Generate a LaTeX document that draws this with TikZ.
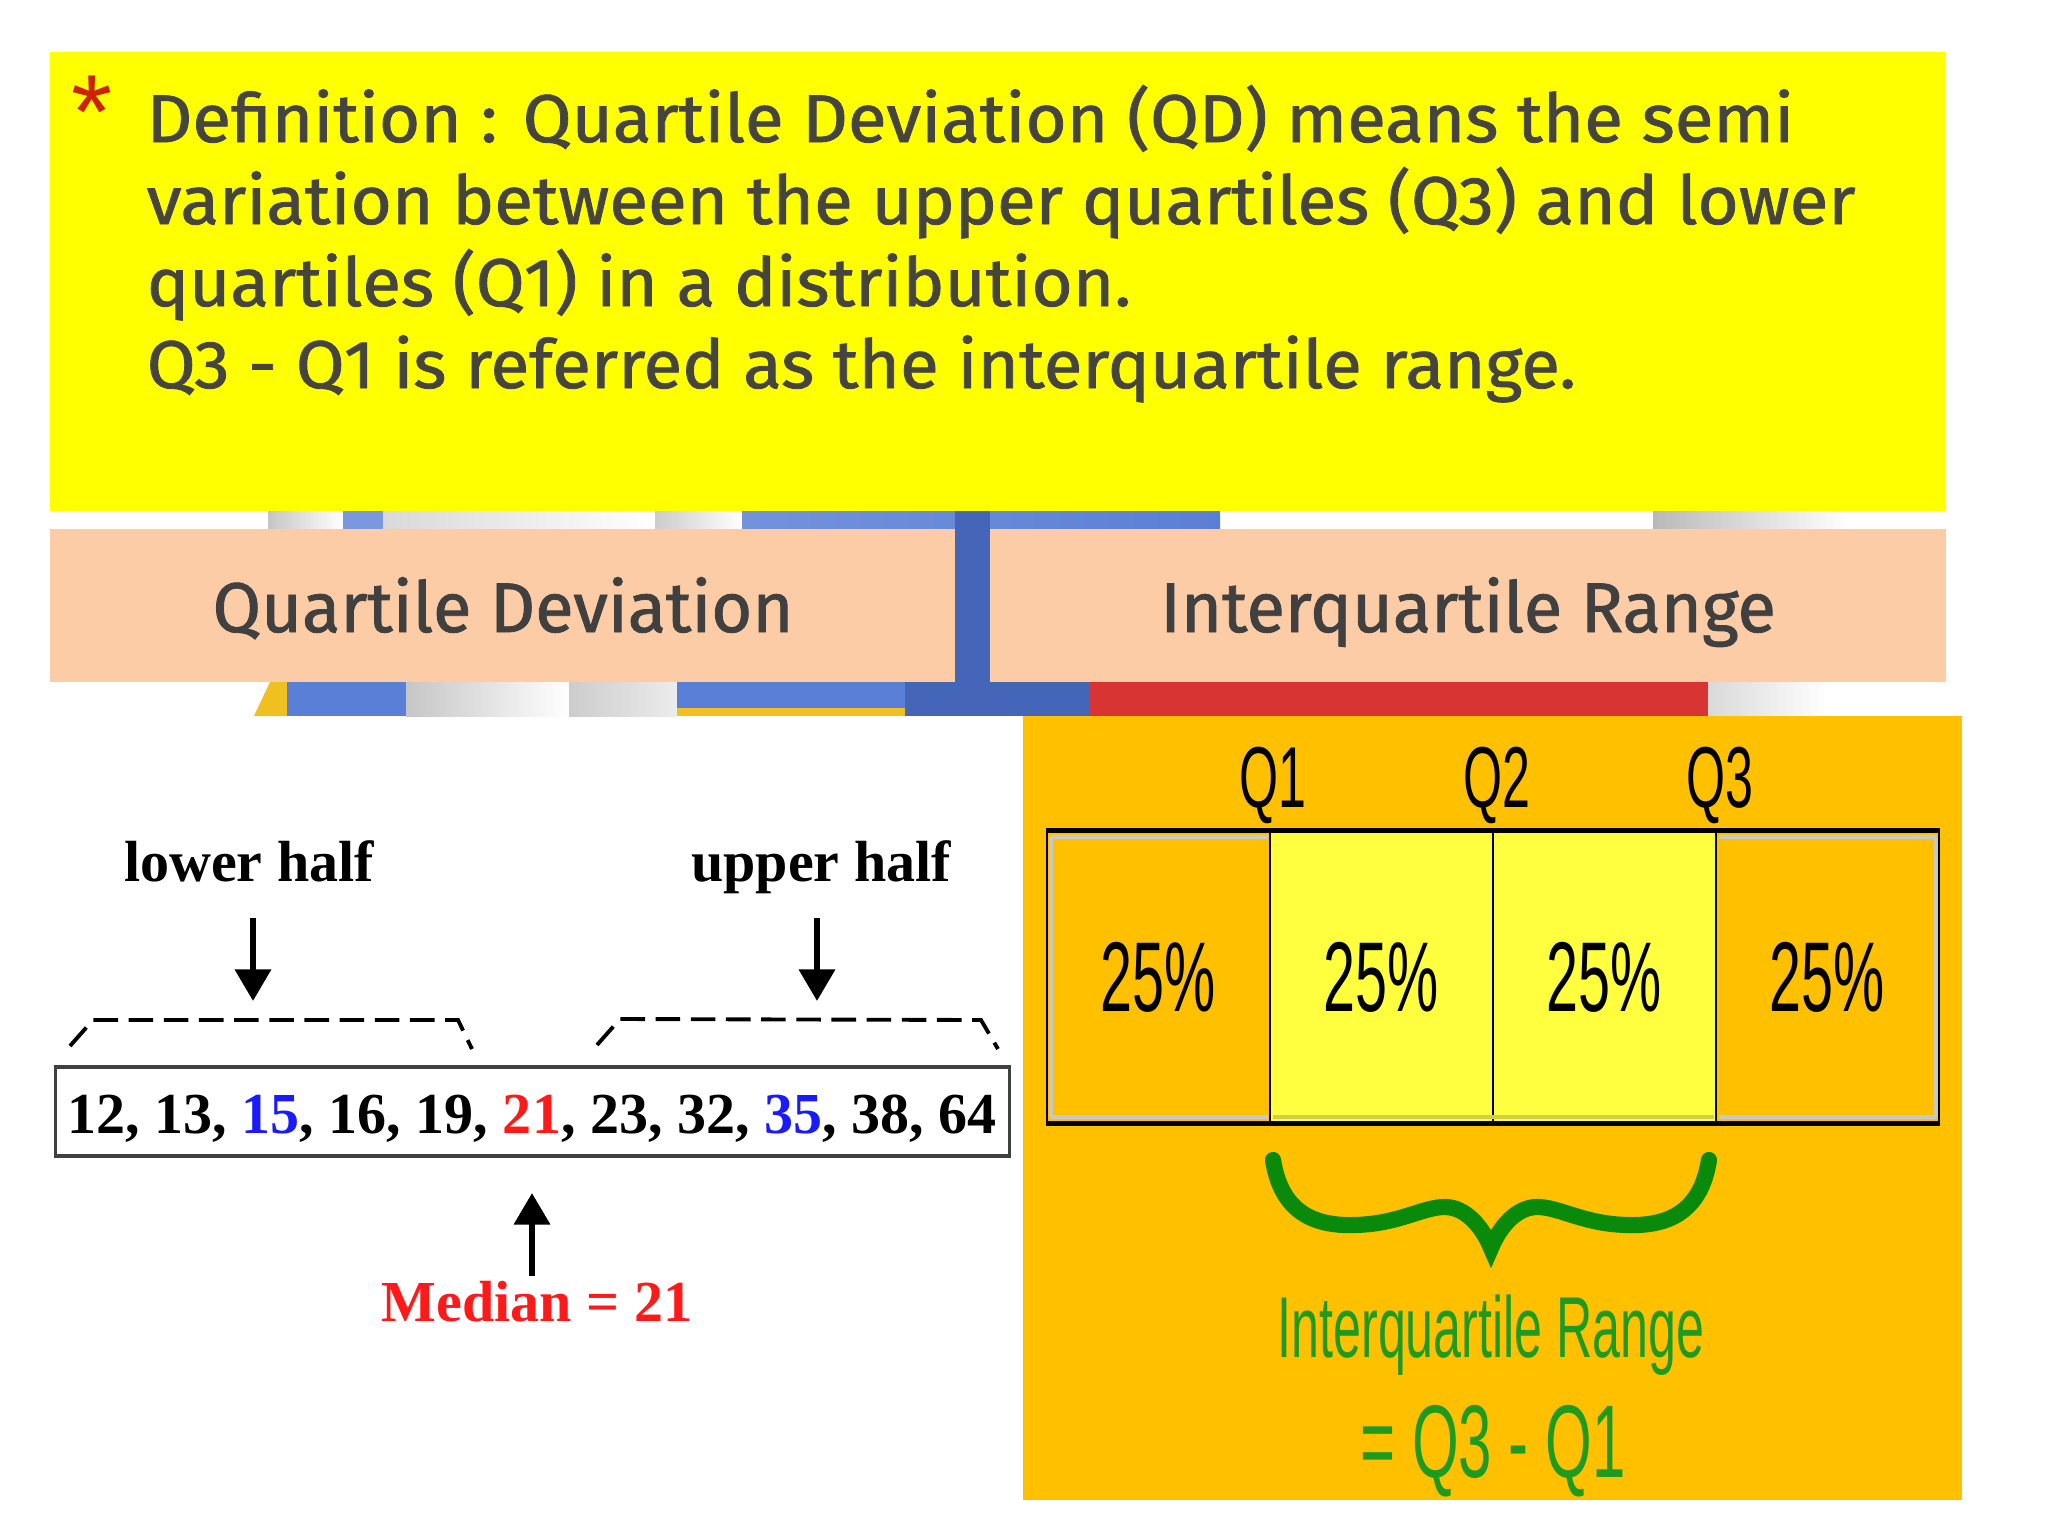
\documentclass[tikz,border=0pt]{standalone}
\usepackage{fontspec}
\usetikzlibrary{arrows.meta}
\setmainfont{Liberation Serif}
\newfontfamily\firadef[FakeStretch=1.05,FakeBold=1.2]{Fira Sans}
\newfontfamily\firahead[FakeBold=1.2]{Fira Sans}
\newfontfamily\astfont{Liberation Sans}
\newfontfamily\narrowfont[FakeStretch=0.58]{Liberation Sans}

\definecolor{slideyellow}{HTML}{FFFF00}
\definecolor{peach}{HTML}{FCCCA6}
\definecolor{panelorange}{HTML}{FFC000}
\definecolor{cellyellow}{HTML}{FFFF40}
\definecolor{deftext}{HTML}{45453E}
\definecolor{headtext}{HTML}{404040}
\definecolor{astred}{HTML}{CC2200}
\definecolor{photoblue}{HTML}{5A7FD6}
\definecolor{gapblue}{HTML}{4566B8}
\definecolor{photored}{HTML}{D83434}
\definecolor{photoyellow}{HTML}{F0C020}
\definecolor{numblue}{HTML}{1A1AFF}
\definecolor{numred}{HTML}{FF1A1A}
\definecolor{bracegreen}{HTML}{0A8A0A}
\definecolor{textgreen}{HTML}{1E9A1E}
\definecolor{cellgray}{HTML}{C8C8C8}
\definecolor{celldark}{HTML}{D0D040}

\begin{document}
\begin{tikzpicture}[x=0.01cm,y=-0.01cm,
  deftextstyle/.style={anchor=base west, inner sep=0pt, text=deftext, font=\firadef\fontsize{19.2}{23}\selectfont},
  headlabel/.style={anchor=base, inner sep=0pt, text=headtext, font=\firahead\fontsize{20}{24}\selectfont},
  halflabel/.style={anchor=base, inner sep=0pt, font=\bfseries\fontsize{16.5}{20}\selectfont},
  bigarrow/.style={line width=1.8pt, -{Triangle[width=10pt,length=9pt]}},
  halfbrace/.style={line width=1.1pt, dash pattern=on 7pt off 3pt},
  qlabel/.style={anchor=base, inner sep=0pt, font=\narrowfont\fontsize{24.6}{28}\selectfont},
  cellstyle/.style={draw=black, line width=0.8pt, minimum width=2.23cm, minimum height=2.9cm, inner sep=0pt, font=\narrowfont\fontsize{28.2}{32}\selectfont},
  greenrange/.style={anchor=base, inner sep=0pt, text=textgreen, font=\narrowfont\fontsize{24.6}{28}\selectfont},
  greenformula/.style={anchor=base, inner sep=0pt, text=textgreen, font=\narrowfont\fontsize{29.4}{32}\selectfont}
]
\fill[white] (0,0) rectangle (2048,1536);
\useasboundingbox (0,0) rectangle (2048,1536);

% --- background photo fragments (top strip) ---
\shade[left color=gray!45, right color=white] (268,511) rectangle (343,529);
\fill[photoblue!80] (343,511) rectangle (383,529);
\shade[left color=gray!30, right color=white] (383,511) rectangle (655,529);
\shade[left color=gray!40, right color=white] (655,511) rectangle (742,529);
\shade[left color=photoblue!85, right color=photoblue] (742,511) rectangle (1220,529);
\shade[left color=gray!55, right color=white] (1653,511) rectangle (1849,529);
% --- bottom strip ---
\fill[photoyellow] (254,716) -- (270,682) -- (287,682) -- (287,716) -- cycle;
\fill[photoblue] (287,682) rectangle (406,716);
\shade[left color=gray!45, right color=white] (406,682) rectangle (569,716);
\shade[left color=gray!40, right color=gray!15] (569,682) rectangle (677,716);
\fill[photoblue] (677,682) rectangle (905,708);
\fill[photoyellow] (677,708) rectangle (905,716);
\fill[gapblue] (905,682) rectangle (1089,716);
\fill[photored] (1089,682) rectangle (1708,716);
\shade[left color=gray!30, right color=white] (1708,682) rectangle (1827,716);
\fill[gapblue] (955,511) rectangle (990,716);

% --- definition box ---
\fill[slideyellow] (50,52) rectangle (1946,511);
\node[anchor=base, inner sep=0pt, text=astred, font=\astfont\fontsize{30}{30}\selectfont] (bullet) at (92,148) {*};
\node[deftextstyle] (defA) at (146,142) {Definition : Quartile Deviation (QD) means the semi};
\node[deftextstyle] (defB) at (146,224) {variation between the upper quartiles (Q3) and lower};
\node[deftextstyle] (defC) at (146,306) {quartiles (Q1) in a distribution.};
\node[deftextstyle] (defD) at (146,388) {Q3 - Q1 is referred as the interquartile range.};

% --- headers ---
\fill[peach] (50,529) rectangle (955,682);
\fill[peach] (990,529) rectangle (1946,682);
\node[headlabel] (qdlabel) at (503,632) {Quartile Deviation};
\node[headlabel] (iqrlabel) at (1468,632) {Interquartile Range};

% --- left panel ---
\node[halflabel] (lowlabel) at (249,881) {lower half};
\node[halflabel] (uplabel) at (821,881) {upper half};
\coordinate (lowstart) at (253,918);
\coordinate (lowend) at (253,1001);
\coordinate (upstart) at (817,918);
\coordinate (upend) at (817,1001);
\draw[bigarrow] (lowstart) -- (lowend);
\draw[bigarrow] (upstart) -- (upend);
\coordinate (lbA) at (70,1046);
\coordinate (lbB) at (93,1020);
\coordinate (lbC) at (458,1020);
\coordinate (lbD) at (472,1049);
\coordinate (ubA) at (597,1045);
\coordinate (ubB) at (620,1019);
\coordinate (ubC) at (981,1020);
\coordinate (ubD) at (998,1049);
\draw[halfbrace] (lbA) -- (lbB) -- (lbC) -- (lbD);
\draw[halfbrace] (ubA) -- (ubB) -- (ubC) -- (ubD);
\node[draw=black!75, line width=1pt, minimum width=9.53cm, minimum height=0.89cm, inner sep=0pt] (numbox) at (532.5,1111.5) {};
\node[halflabel] (numtext) at (532,1133)
  {12, 13, \textcolor{numblue}{15}, 16, 19, \textcolor{numred}{21}, 23, 32, \textcolor{numblue}{35}, 38, 64};
\coordinate (medstart) at (532,1276);
\coordinate (medend) at (532,1193);
\draw[bigarrow] (medstart) -- (medend);
\node[halflabel, text=numred] (medlabel) at (537,1321) {Median = 21};

% --- right panel ---
\fill[panelorange] (1023,716) rectangle (1962,1500);
\node[qlabel] (qone) at (1273,807) {Q1};
\node[qlabel] (qtwo) at (1497,807) {Q2};
\node[qlabel] (qthree) at (1720,807) {Q3};
\node[cellstyle, fill=panelorange] (cellA) at (1158.5,977) {25\%};
\node[cellstyle, fill=cellyellow] (cellB) at (1381.5,977) {25\%};
\node[cellstyle, fill=cellyellow] (cellC) at (1604.5,977) {25\%};
\node[cellstyle, fill=panelorange] (cellD) at (1827.5,977) {25\%};
\draw[cellgray, line width=1pt] (1051,837) -- (1268,837);
\draw[cellgray, line width=1pt] (1051,1117) -- (1268,1117);
\draw[cellgray, line width=1pt] (1051,837) -- (1051,1117);
\draw[cellgray, line width=1pt] (1719,837) -- (1936,837);
\draw[cellgray, line width=1pt] (1719,1117) -- (1936,1117);
\draw[cellgray, line width=1pt] (1936,837) -- (1936,1117);
\draw[celldark, line width=1pt] (1273,1117) -- (1714,1117);
\draw[black, line width=1.2pt] (cellA.north west) -- (cellD.north east);
\draw[black, line width=1.2pt] (cellA.south west) -- (cellD.south east);

\draw[bracegreen, line width=4.6pt, line cap=round, miter limit=10]
  (1273,1160) .. controls (1283,1224) and (1330,1228) .. (1370,1224)
  .. controls (1405,1220) and (1425,1207) .. (1445,1207)
  .. controls (1465,1207) and (1482,1226) .. (1491,1248)
  .. controls (1500,1226) and (1517,1207) .. (1537,1207)
  .. controls (1557,1207) and (1577,1220) .. (1612,1224)
  .. controls (1652,1228) and (1699,1224) .. (1709,1160);

\node[greenrange] (iqrtext) at (1491,1357) {Interquartile Range};
\node[greenformula] (iqrformula) at (1493,1477) {= Q3 - Q1};
\end{tikzpicture}
\end{document}
